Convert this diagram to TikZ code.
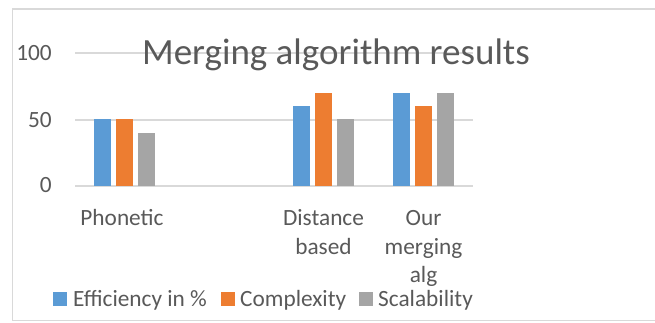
\documentclass[tikz,border=0pt]{standalone}
\usepackage{fontspec}
\setmainfont{Carlito}
\definecolor{txt}{HTML}{595959}
\definecolor{grid}{HTML}{D9D9D9}
\definecolor{sblue}{HTML}{5B9BD5}
\definecolor{sorange}{HTML}{ED7D31}
\definecolor{sgray}{HTML}{A5A5A5}
\begin{document}
\begin{tikzpicture}[x=1pt,y=-1pt,
  lbl/.style={text=txt,font=\fontsize{23.3}{29.5}\selectfont,inner sep=0pt},
  ticklbl/.style={lbl,anchor=base east},
  catlbl/.style={lbl,anchor=base},
  leglbl/.style={lbl,anchor=base west},
  gridline/.style={draw=grid,line width=1.3pt}]
\useasboundingbox (0,0) rectangle (655,323);
% chart frame (right edge runs past the page)
\draw[grid,line width=1.6pt] (660,9) -- (12.5,9) -- (12.5,320.5) -- (660,320.5);
% value scale: 0 at y=186, 1 unit = 1.33
\foreach \y in {186,120,53}{
  \draw[gridline] (75,\y) -- (473,\y);
}
\node[ticklbl] (t100) at (52,61) {100};
\node[ticklbl] (t50) at (52,127.5) {50};
\node[ticklbl] (t0) at (52,193) {0};
% title
\node[text=txt,font=\fontsize{37}{40}\selectfont,inner sep=0pt,anchor=base] (title) at (336,64.3) {Merging algorithm results};
% bars: group centre / efficiency / complexity / scalability
\foreach \c/\a/\b/\s in {124.5/50/50/40, 323.5/60/70/50, 423.5/70/60/70}{
  \fill[sblue]   (\c-30.5,186) rectangle (\c-13.5,186-1.33*\a);
  \fill[sorange] (\c-8.5,186)  rectangle (\c+8.5,186-1.33*\b);
  \fill[sgray]   (\c+13.5,186) rectangle (\c+30.5,186-1.33*\s);
}
% category labels, one line per node
\node[catlbl] (c1) at (122,225) {Phonetic};
\node[catlbl] (c2a) at (323.5,225) {Distance};
\node[catlbl] (c2b) at (323.5,254.5) {based};
\node[catlbl] (c3a) at (423.5,225) {Our};
\node[catlbl] (c3b) at (423.5,254.5) {merging};
\node[catlbl] (c3c) at (423.5,282) {alg};
% legend
\fill[sblue]   (53,292) rectangle (67,306);
\node[leglbl] (l1) at (73,306) {Efficiency in \%};
\fill[sorange] (221,292) rectangle (235,306);
\node[leglbl] (l2) at (240,306) {Complexity};
\fill[sgray]   (359,292) rectangle (373,306);
\node[leglbl] (l3) at (378,306) {Scalability};
\end{tikzpicture}
\end{document}
